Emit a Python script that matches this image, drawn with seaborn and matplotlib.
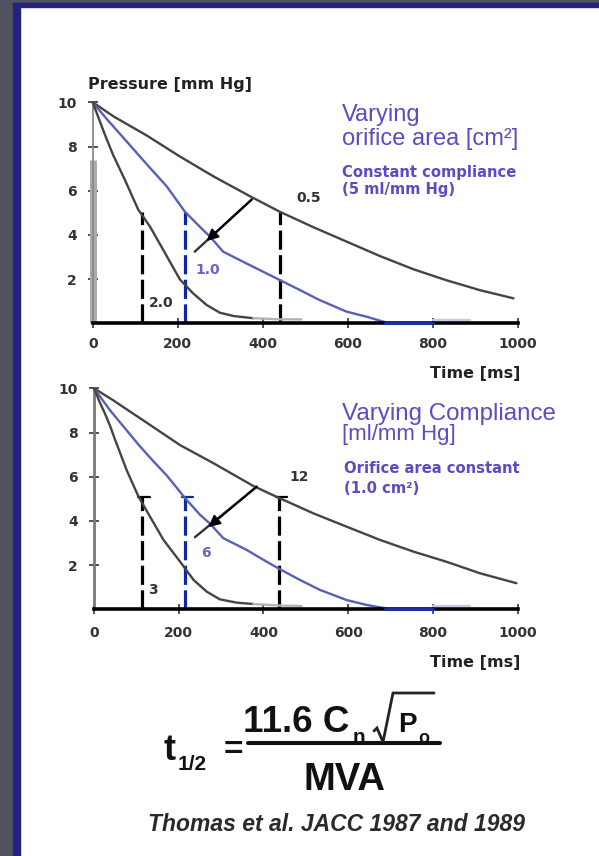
import matplotlib
matplotlib.use("Agg")
import matplotlib.pyplot as plt
from matplotlib.lines import Line2D
from matplotlib.patches import Rectangle
import seaborn as sns

# ---------------- data ----------------
x_ticks = [0, 200, 400, 600, 800, 1000]
y_ticks = [2, 4, 6, 8, 10]

# Panel 1: varying orifice area [cm2], constant compliance
t_area05 = [0, 50, 127, 205, 284, 370, 440, 519, 597, 675, 754, 832, 911, 990]
p_area05 = [10, 9.35, 8.5, 7.55, 6.65, 5.75, 5.05, 4.35, 3.7, 3.05, 2.45, 1.95, 1.5, 1.13]
t_area10 = [0, 35, 72, 127, 174, 217, 252, 276, 307, 346, 393, 440, 487, 534, 597, 644, 688]
p_area10 = [10, 9.2, 8.4, 7.2, 6.2, 5.05, 4.37, 3.92, 3.24, 2.86, 2.41, 1.96, 1.51, 1.05, 0.53, 0.30, 0.05]
t_area10_tail_dark = [688, 800]
p_area10_tail_dark = [0, 0]
t_area10_tail_light = [800, 887]
p_area10_tail_light = [0.15, 0.15]
t_area20 = [0, 29, 48, 76, 107, 135, 166, 205, 236, 268, 299, 331, 378]
p_area20 = [10, 8.52, 7.62, 6.48, 5.15, 4.37, 3.32, 1.99, 1.36, 0.83, 0.48, 0.33, 0.23]
t_area20_tail = [378, 440, 491]
p_area20_tail = [0.23, 0.18, 0.18]
t_half_area = [115, 217, 440]
p_half_area = [5.05, 5.05, 5.05]
area_labels = ["0.5", "1.0", "2.0"]
area_label_t = [509, 271, 161]
area_label_p = [5.65, 2.39, 0.94]
arrow_area = [(374, 5.6), (268, 3.72), (240, 3.24)]  # start, tip, tail end
axis_bar_area = [0, 7.4]

# Panel 2: varying compliance [ml/mm Hg], orifice area constant
t_comp12 = [0, 46, 77, 124, 203, 282, 376, 439, 518, 596, 675, 754, 832, 911, 997]
p_comp12 = [10, 9.45, 9.05, 8.45, 7.43, 6.61, 5.58, 5.02, 4.34, 3.74, 3.14, 2.61, 2.15, 1.63, 1.18]
t_comp6 = [0, 38, 77, 105, 140, 172, 215, 250, 274, 305, 360, 407, 439, 486, 533, 596, 643, 686]
p_comp6 = [10, 9.0, 8.1, 7.45, 6.7, 6.05, 5.03, 4.28, 3.87, 3.22, 2.69, 2.16, 1.81, 1.33, 0.88, 0.42, 0.2, 0.05]
t_comp6_tail_dark = [686, 801]
p_comp6_tail_dark = [0, 0]
t_comp6_tail_light = [801, 887]
p_comp6_tail_light = [0.15, 0.15]
t_comp3 = [0, 14, 26, 38, 50, 77, 105, 132, 164, 203, 235, 266, 297, 337, 376]
p_comp3 = [10, 9.35, 8.85, 8.3, 7.66, 6.30, 5.10, 4.20, 3.14, 2.16, 1.33, 0.80, 0.45, 0.30, 0.24]
t_comp3_tail = [376, 440, 490]
p_comp3_tail = [0.24, 0.17, 0.15]
t_half_comp = [113, 215, 437]
p_half_comp = [5.07, 5.07, 5.07]
comp_labels = ["12", "6", "3"]
comp_label_t = [484, 264, 138]
comp_label_p = [5.99, 2.55, 0.87]
arrow_comp = [(384, 5.55), (270, 3.72), (238, 3.26)]

# ---------------- style ----------------
sns.set_style("white")
plt.rcParams["font.family"] = ["DejaVu Sans"]

W, H = 599, 856
fig = plt.figure(figsize=(W / 100, H / 100), dpi=100)
fig.patch.set_facecolor("white")


def fx(px):
    return px / W


def fy(py):
    return 1 - py / H


GREY_BG = "#50525f"
BLUE_BORDER = "#22227f"
fig.add_artist(Rectangle((0, 0), fx(13), 1, transform=fig.transFigure, color=GREY_BG, zorder=0))
fig.add_artist(Rectangle((0, fy(3)), 1, 3 / H, transform=fig.transFigure, color=GREY_BG, zorder=0))
fig.add_artist(Rectangle((fx(13), 0), 7 / W, fy(3), transform=fig.transFigure, color=BLUE_BORDER, zorder=0))
fig.add_artist(Rectangle((fx(13), fy(7)), 1, 4 / H, transform=fig.transFigure, color=BLUE_BORDER, zorder=0))

CURVE_DARK = "#444444"
CURVE_BLUE = "#5560b8"
TAIL_GREY = "#b4b4b4"
TAIL_BLUE_DARK = "#1a2fa0"
TAIL_LAVENDER = "#c8c8ec"
DASH_BLUE = "#0a28a0"
TXT_PURPLE = "#5b4bc4"

ax1 = fig.add_axes([fx(92.7), fy(323.3), (517.7 - 92.7) / W, (323.3 - 102.3) / H])
ax2 = fig.add_axes([fx(94), fy(609.3), (517.7 - 94) / W, (609.3 - 388.3) / H])


def style_axes(ax, xpad, left_color, left_lw):
    ax.set_facecolor("none")
    ax.set_xlim(0, 1000)
    ax.set_ylim(0, 10)
    for s in ["top", "right"]:
        ax.spines[s].set_visible(False)
    ax.spines["bottom"].set_color("black")
    ax.spines["bottom"].set_linewidth(2.6)
    ax.spines["bottom"].set_zorder(4)
    ax.spines["left"].set_color(left_color)
    ax.spines["left"].set_linewidth(left_lw)
    ax.set_xticks(x_ticks)
    ax.set_xticklabels([str(v) for v in x_ticks])
    ax.set_yticks(y_ticks)
    ax.set_yticklabels([str(v) for v in y_ticks])
    ax.tick_params(axis="both", direction="inout", length=7, width=1.3, color="#444444",
                   labelsize=10, labelcolor="#333333", left=True, bottom=True)
    ax.tick_params(axis="x", pad=xpad)
    ax.tick_params(axis="y", pad=8)
    for lab in ax.get_xticklabels() + ax.get_yticklabels():
        lab.set_fontweight("bold")
    ax.set_xlabel("")
    ax.set_ylabel("")


def line(ax, t, p, color, lw=1.7, z=3):
    sns.lineplot(x=t, y=p, ax=ax, color=color, lw=lw, clip_on=False, zorder=z,
                 estimator=None, sort=False)


def draw_panel(ax, curves, tails, t_half, p_half, half_colors, labels, lt, lp, lcolors, arrow, caps):
    for t, p, c in curves:
        line(ax, t, p, c)
    for t, p, c, lw in tails:
        line(ax, t, p, c, lw=lw, z=5 if c == TAIL_BLUE_DARK else 3)
    for i, (t, p) in enumerate(zip(t_half, p_half)):
        ax.plot([t, t], [0, p], color=half_colors[i], lw=2.3, dashes=(6, 1.7),
                clip_on=False, zorder=2.5)
        if caps:
            ax.plot([t - 8, t + 18], [p, p], color=half_colors[i], lw=1.6, clip_on=False, zorder=2.5)
    for s, t, p, c in zip(labels, lt, lp, lcolors):
        ax.text(t, p, s, ha="center", va="center", fontsize=10, fontweight="bold", color=c)
    (t0, p0), (t1, p1), (t2, p2) = arrow
    ax.plot([t0, t2], [p0, p2], color="#333333", lw=1.7, zorder=4)
    ax.annotate("", xy=(t1, p1), xytext=(t0, p0),
                arrowprops=dict(arrowstyle="-|>", color="#000000", lw=1.5,
                                mutation_scale=17, shrinkA=0, shrinkB=0), zorder=6)


style_axes(ax1, 6.5, "#8a8a8a", 1.3)
style_axes(ax2, 8.5, "#7a7a7a", 2.0)

ax1.plot([0, 0], axis_bar_area, color="#ababab", lw=5, solid_capstyle="butt", clip_on=False, zorder=1)

draw_panel(ax1,
           [(t_area05, p_area05, CURVE_DARK), (t_area10, p_area10, CURVE_BLUE), (t_area20, p_area20, CURVE_DARK)],
           [(t_area10_tail_dark, p_area10_tail_dark, TAIL_BLUE_DARK, 2.2),
            (t_area10_tail_light, p_area10_tail_light, TAIL_LAVENDER, 1.7),
            (t_area20_tail, p_area20_tail, TAIL_GREY, 1.7)],
           t_half_area, p_half_area, ["black", DASH_BLUE, "black"],
           area_labels, area_label_t, area_label_p, ["#333333", "#7060c8", "#333333"],
           arrow_area, caps=False)

draw_panel(ax2,
           [(t_comp12, p_comp12, CURVE_DARK), (t_comp6, p_comp6, CURVE_BLUE), (t_comp3, p_comp3, CURVE_DARK)],
           [(t_comp6_tail_dark, p_comp6_tail_dark, TAIL_BLUE_DARK, 2.2),
            (t_comp6_tail_light, p_comp6_tail_light, TAIL_LAVENDER, 1.7),
            (t_comp3_tail, p_comp3_tail, TAIL_GREY, 1.7)],
           t_half_comp, p_half_comp, ["black", DASH_BLUE, "black"],
           comp_labels, comp_label_t, comp_label_p, ["#333333", "#7060c8", "#333333"],
           arrow_comp, caps=True)

# ---------------- texts ----------------
bold = dict(fontweight="bold", family="DejaVu Sans")
fig.text(fx(88), fy(89), "Pressure [mm Hg]", fontsize=11.5, color="#222222", va="baseline", ha="left", **bold)
fig.text(fx(520), fy(378), "Time [ms]", fontsize=11.5, color="#222222", va="baseline", ha="right", **bold)
fig.text(fx(520), fy(667), "Time [ms]", fontsize=11.5, color="#222222", va="baseline", ha="right", **bold)

title_kw = dict(family="Liberation Sans", fontsize=17, color=TXT_PURPLE, va="baseline", ha="left")
fig.text(fx(342), fy(121), "Varying", **title_kw)
fig.text(fx(342), fy(145), "orifice area [cm\u00b2]", **title_kw)
fig.text(fx(342), fy(420), "Varying Compliance", **{**title_kw, "fontsize": 17.4})
fig.text(fx(342), fy(440), "[ml/mm Hg]", **{**title_kw, "fontsize": 16})

sub_kw = dict(fontsize=10.6, color=TXT_PURPLE, va="baseline", ha="left", **bold)
fig.text(fx(342), fy(176.5), "Constant compliance", **sub_kw)
fig.text(fx(342), fy(194), "(5 ml/mm Hg)", **sub_kw)
fig.text(fx(344), fy(473), "Orifice area constant", **sub_kw)
fig.text(fx(344), fy(493), "(1.0 cm\u00b2)", **sub_kw)

# formula
fk = dict(family="Liberation Sans", fontweight="bold", color="#111111", va="baseline", ha="left")
fig.text(fx(163), fy(760), "t", fontsize=26, **fk)
fig.text(fx(178), fy(770), "1/2", fontsize=15, **fk)
fig.text(fx(233), fy(759), "=", fontsize=24, **{**fk, "ha": "center"})
fig.add_artist(Line2D([fx(248), fx(440)], [fy(743), fy(743)], transform=fig.transFigure,
                      color="#111111", lw=2.9))
fig.text(fx(243), fy(732), "11.6 C", fontsize=26.5, **fk)
fig.text(fx(353), fy(743), "n", fontsize=15, **fk)
rad_x = [374, 377, 383, 393, 434]
rad_y = [731, 728, 742, 693, 693]
fig.add_artist(Line2D([fx(v) for v in rad_x], [fy(v) for v in rad_y], transform=fig.transFigure,
                      color="#222222", lw=2.0, solid_joinstyle="miter"))
fig.text(fx(398), fy(732), "P", fontsize=20, **fk)
fig.text(fx(418), fy(743), "o", fontsize=13, **fk)
fig.text(fx(345), fy(790), "MVA", fontsize=27.5, **{**fk, "ha": "center"})
fig.text(fx(148), fy(831), "Thomas et al. JACC 1987 and 1989", fontsize=16.5, family="Liberation Sans",
         fontweight="bold", style="italic", color="#2a2a2a", va="baseline", ha="left")

fig.savefig("out.png", dpi=100, facecolor=fig.get_facecolor())
